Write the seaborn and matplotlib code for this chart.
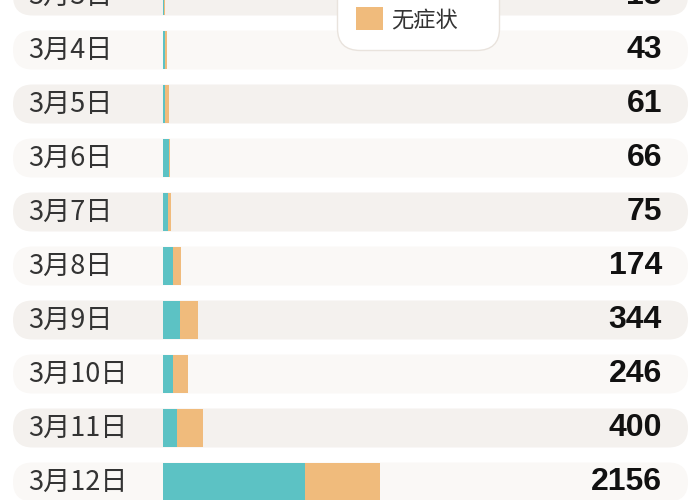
import matplotlib
matplotlib.use('Agg')
import matplotlib.pyplot as plt
import seaborn as sns
from matplotlib.patches import FancyBboxPatch, Patch

dates = ['3月3日', '3月4日', '3月5日', '3月6日', '3月7日',
         '3月8日', '3月9日', '3月10日', '3月11日', '3月12日']
confirmed = [8, 23, 24, 63, 50, 96, 168, 103, 136, 1412]
asymptomatic = [10, 20, 37, 3, 25, 78, 176, 143, 264, 744]
totals = [c + a for c, a in zip(confirmed, asymptomatic)]
series_names = ['确诊病例', '无症状']

teal = '#5cc2c4'
orange = '#f0bb7c'

sns.set_theme(style='white')
plt.rcParams['font.family'] = ['Noto Sans CJK SC', 'DejaVu Sans']

fig = plt.figure(figsize=(7, 5), dpi=100)
fig.patch.set_facecolor('white')

# background axes in pixel units (origin bottom-left)
bg = fig.add_axes([0, 0, 1, 1])
bg.set_xlim(0, 700)
bg.set_ylim(0, 500)
bg.axis('off')

ax = fig.add_axes([0, 0, 1, 1])
ax.set_facecolor('none')

# stacked: total in orange underneath, confirmed in teal on top
sns.barplot(x=totals, y=dates, orient='h', color=orange, saturation=1,
            width=0.72, linewidth=0, ax=ax)
sns.barplot(x=confirmed, y=dates, orient='h', color=teal, saturation=1,
            width=0.72, linewidth=0, ax=ax)

per_px = 2156 / 217
ax.set_xlim(-163 * per_px, (700 - 163) * per_px)
top = 4 / 54
ax.set_ylim(top + 500 / 54, top)
ax.axis('off')

fig.canvas.draw()
for i, d in enumerate(dates):
    _, yc = ax.transData.transform((0, i))
    shade = '#f4f1ee' if i % 2 == 0 else '#faf8f6'
    bg.add_patch(FancyBboxPatch((13, yc - 19.5), 675, 39,
                                boxstyle='round,pad=0,rounding_size=19.5',
                                facecolor=shade, edgecolor='none', zorder=0))
    bg.text(28, yc, d, ha='left', va='center', fontsize=19.5, color='#333333')
    bg.text(662, yc, str(totals[i]), ha='right', va='center', fontsize=23,
            fontweight='bold', color='#111111',
            family=['Liberation Sans', 'DejaVu Sans'])

handles = [Patch(facecolor=teal, edgecolor='none'),
           Patch(facecolor=orange, edgecolor='none')]
leg = fig.legend(handles, series_names, loc='lower center',
                 bbox_to_anchor=(418 / 700, 450 / 500), borderaxespad=0,
                 fontsize=16, handlelength=1.2, handleheight=1.2,
                 handletextpad=0.35, borderpad=0.85, labelspacing=0.6,
                 frameon=True, fancybox=True, framealpha=1,
                 labelcolor='#333333')
frame = leg.get_frame()
frame.set_edgecolor('#e9e3dd')
frame.set_linewidth(1)
frame.set_boxstyle('round', pad=0, rounding_size=1.0)

fig.savefig('out.png', dpi=100)
